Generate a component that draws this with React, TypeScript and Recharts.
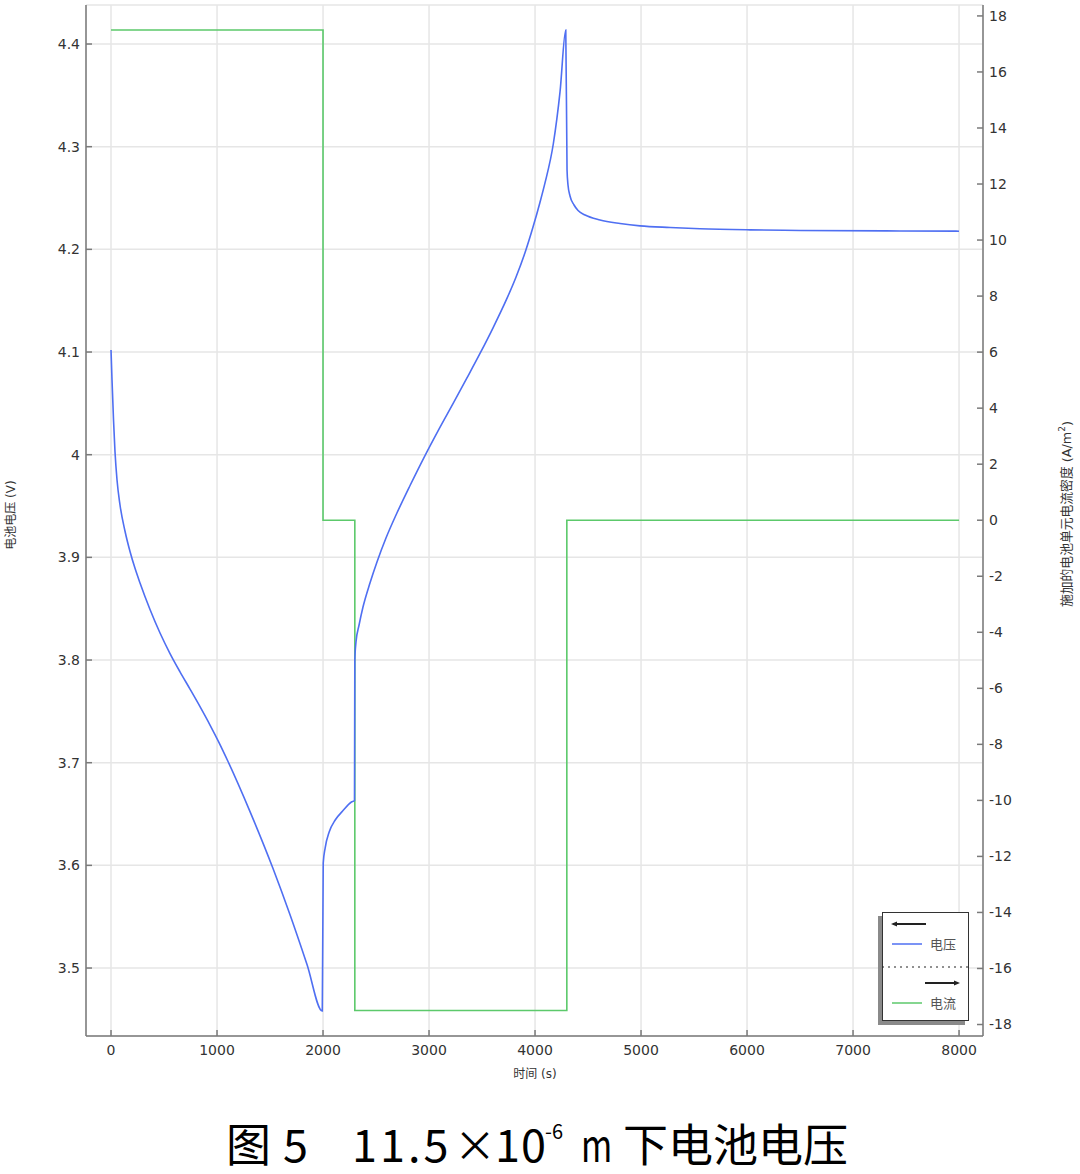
import React from "react";
import {
  LineChart,
  Line,
  XAxis,
  YAxis,
  CartesianGrid,
} from "recharts";

// time (s) / cell voltage (V)
const voltage = [
  { t: 0, v: 4.102 },
  { t: 9.4, v: 4.0727 },
  { t: 23.6, v: 4.0338 },
  { t: 37.7, v: 4.0026 },
  { t: 56.6, v: 3.9753 },
  { t: 84.9, v: 3.951 },
  { t: 132.1, v: 3.9254 },
  { t: 179.2, v: 3.9057 },
  { t: 226.4, v: 3.8893 },
  { t: 273.6, v: 3.875 },
  { t: 367.9, v: 3.8492 },
  { t: 462.3, v: 3.8263 },
  { t: 556.6, v: 3.8063 },
  { t: 650.9, v: 3.7885 },
  { t: 745.3, v: 3.7717 },
  { t: 839.6, v: 3.7546 },
  { t: 934, v: 3.7367 },
  { t: 1018.9, v: 3.7196 },
  { t: 1103.8, v: 3.7012 },
  { t: 1311.3, v: 3.6524 },
  { t: 1528.3, v: 3.5969 },
  { t: 1688.7, v: 3.5518 },
  { t: 1849, v: 3.5034 },
  { t: 1993, v: 3.4581 },
  { t: 2002, v: 3.6023 },
  { t: 2020, v: 3.6169 },
  { t: 2058, v: 3.6325 },
  { t: 2115, v: 3.6442 },
  { t: 2185, v: 3.6529 },
  { t: 2268, v: 3.6617 },
  { t: 2297, v: 3.6632 },
  { t: 2300, v: 3.8 },
  { t: 2311, v: 3.8176 },
  { t: 2340, v: 3.8341 },
  { t: 2377, v: 3.8516 },
  { t: 2443, v: 3.875 },
  { t: 2509, v: 3.8955 },
  { t: 2594, v: 3.9188 },
  { t: 2695, v: 3.9427 },
  { t: 2821, v: 3.97 },
  { t: 2962, v: 3.9992 },
  { t: 3094, v: 4.025 },
  { t: 3229, v: 4.0503 },
  { t: 3358, v: 4.0748 },
  { t: 3481, v: 4.0986 },
  { t: 3604, v: 4.1236 },
  { t: 3733, v: 4.1517 },
  { t: 3821, v: 4.1731 },
  { t: 3906, v: 4.1969 },
  { t: 3981, v: 4.2217 },
  { t: 4047, v: 4.2459 },
  { t: 4094, v: 4.2647 },
  { t: 4173, v: 4.3031 },
  { t: 4236, v: 4.3536 },
  { t: 4290, v: 4.4136 },
  { t: 4302, v: 4.2773 },
  { t: 4311, v: 4.2627 },
  { t: 4330, v: 4.252 },
  { t: 4368, v: 4.2432 },
  { t: 4406, v: 4.2378 },
  { t: 4472, v: 4.2334 },
  { t: 4613, v: 4.2286 },
  { t: 4802, v: 4.2252 },
  { t: 4991, v: 4.2229 },
  { t: 5274, v: 4.2213 },
  { t: 5557, v: 4.2201 },
  { t: 6028, v: 4.219 },
  { t: 6500, v: 4.2184 },
  { t: 7443, v: 4.2179 },
  { t: 8000, v: 4.2177 },
];

// time (s) / applied current density (A/m^2)
const current = [
  { t: 0, i: 17.5 },
  { t: 2000, i: 17.5 },
  { t: 2000, i: 0 },
  { t: 2300, i: 0 },
  { t: 2300, i: -17.5 },
  { t: 4300, i: -17.5 },
  { t: 4300, i: 0 },
  { t: 8000, i: 0 },
];

const xTicks = [0, 1000, 2000, 3000, 4000, 5000, 6000, 7000, 8000];
const vTicks = [3.5, 3.6, 3.7, 3.8, 3.9, 4.0, 4.1, 4.2, 4.3, 4.4];
const iTicks = [-18, -16, -14, -12, -10, -8, -6, -4, -2, 0, 2, 4, 6, 8, 10, 12, 14, 16, 18];

const BLUE = "#4f6ff2";
const GREEN = "#5cc96b";
const AXIS = "#7a7a7a";
const FONT = "'DejaVu Sans', 'Noto Sans CJK SC', sans-serif";
const tickStyle = { fontSize: 14, fill: "#333", fontFamily: FONT };

function LegendBox() {
  return (
    <div
      style={{
        position: "absolute",
        left: 882,
        top: 912,
        width: 87,
        height: 109,
        background: "#fff",
        border: "1.5px solid #333",
        boxShadow: "-4px 4px 0 #8a8a8a",
        boxSizing: "border-box",
      }}
    >
      <svg width={87} height={109} style={{ position: "absolute", left: -1.5, top: -1.5 }}>
        <line x1={11} y1={12} x2={44} y2={12} stroke="#222" strokeWidth={2} />
        <polygon points="9,12 15,9.5 15,14.5" fill="#222" />
        <line x1={10} y1={32} x2={40} y2={32} stroke={BLUE} strokeWidth={1.5} />
        <text x={48} y={36.5} fontSize={13} fill="#555" fontFamily={FONT}>电压</text>
        <line x1={0} y1={55} x2={87} y2={55} stroke="#222" strokeWidth={1.2} strokeDasharray="2 4" />
        <line x1={43} y1={71} x2={75} y2={71} stroke="#222" strokeWidth={2} />
        <polygon points="78,71 72,68.5 72,73.5" fill="#222" />
        <line x1={10} y1={91} x2={40} y2={91} stroke={GREEN} strokeWidth={1.5} />
        <text x={48} y={95.5} fontSize={13} fill="#555" fontFamily={FONT}>电流</text>
      </svg>
    </div>
  );
}

const titleFont: React.CSSProperties = {
  position: "absolute",
  fontFamily: "'Noto Sans CJK SC', sans-serif",
  fontSize: 45,
  lineHeight: "45px",
  color: "#000",
  top: 1120,
  whiteSpace: "nowrap",
};

export default function App() {
  return (
    <div style={{ position: "absolute", left: 0, top: 0, width: 1080, height: 1174, background: "#fff", overflow: "hidden" }}>
      <LineChart
        width={1080}
        height={1100}
        margin={{ top: 5, right: 37, left: 26, bottom: 14 }}
      >
        <CartesianGrid yAxisId="v" xAxisId="b" stroke="#e6e6e6" strokeWidth={1.5} />
        <XAxis
          xAxisId="b"
          dataKey="t"
          type="number"
          domain={[-236, 8226]}
          ticks={xTicks}
          allowDataOverflow
          height={50}
          tick={tickStyle}
          tickSize={-6}
          tickMargin={15}
          stroke={AXIS}
          strokeWidth={1.5}
        />
        <XAxis
          xAxisId="top"
          orientation="top"
          dataKey="t"
          type="number"
          domain={[-236, 8226]}
          ticks={xTicks}
          allowDataOverflow
          height={0}
          tickFormatter={() => ""}
          tickSize={-6}
          stroke={AXIS}
          strokeWidth={1.5}
        />
        <YAxis
          yAxisId="v"
          type="number"
          domain={[3.4338, 4.438]}
          ticks={vTicks}
          allowDataOverflow
          width={60}
          tick={tickStyle}
          tickSize={-6}
          tickMargin={12}
          stroke={AXIS}
          strokeWidth={1.5}
        />
        <YAxis
          yAxisId="i"
          orientation="right"
          type="number"
          domain={[-18.41, 18.39]}
          ticks={iTicks}
          allowDataOverflow
          width={60}
          tick={{ ...tickStyle, textAnchor: "start" }}
          tickSize={-6}
          tickMargin={12}
          stroke={AXIS}
          strokeWidth={1.5}
        />
        <Line
          xAxisId="b"
          yAxisId="i"
          data={current}
          dataKey="i"
          type="linear"
          stroke={GREEN}
          strokeWidth={1.6}
          dot={false}
          isAnimationActive={false}
        />
        <Line
          xAxisId="b"
          yAxisId="v"
          data={voltage}
          dataKey="v"
          type="monotone"
          stroke={BLUE}
          strokeWidth={1.6}
          dot={false}
          isAnimationActive={false}
        />
      </LineChart>

      <div
        style={{
          position: "absolute",
          left: 9,
          top: 515,
          transform: "translate(-50%, -50%) rotate(-90deg)",
          fontSize: 12,
          color: "#333",
          fontFamily: FONT,
          whiteSpace: "nowrap",
        }}
      >
        电池电压 (V)
      </div>
      <div
        style={{
          position: "absolute",
          left: 1065,
          top: 514,
          transform: "translate(-50%, -50%) rotate(-90deg)",
          fontSize: 12.8,
          color: "#333",
          fontFamily: FONT,
          whiteSpace: "nowrap",
        }}
      >
        施加的电池单元电流密度 (A/m<sup style={{ fontSize: 9 }}>2</sup>)
      </div>
      <div
        style={{
          position: "absolute",
          left: 535,
          top: 1072,
          transform: "translate(-50%, -50%)",
          fontSize: 12,
          color: "#333",
          fontFamily: FONT,
          whiteSpace: "nowrap",
        }}
      >
        时间 (s)
      </div>

      <LegendBox />

      <span style={{ ...titleFont, left: 226 }}>图</span>
      <span style={{ ...titleFont, left: 283 }}>5</span>
      <span style={{ ...titleFont, left: 352, letterSpacing: 3 }}>11.5</span>
      <span style={{ ...titleFont, left: 454, fontSize: 42 }}>×</span>
      <span style={{ ...titleFont, left: 495, letterSpacing: 1 }}>10</span>
      <span style={{ ...titleFont, left: 545, fontSize: 20, lineHeight: "20px", top: 1121 }}>-6</span>
      <span style={{ ...titleFont, left: 581, display: "inline-block", transform: "scaleX(0.75)", transformOrigin: "left center" }}>m</span>
      <span style={{ ...titleFont, left: 623 }}>下电池电压</span>
    </div>
  );
}
